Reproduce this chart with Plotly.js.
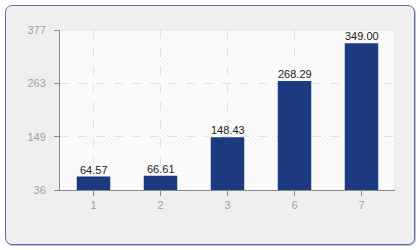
<!DOCTYPE html>
<html>
<head>
<meta charset="utf-8">
<script src="https://cdn.plot.ly/plotly-3.0.1.min.js"></script>
<style>
html,body{margin:0;padding:0;background:#ffffff;}
#frame{position:absolute;left:5px;top:5px;width:408px;height:238px;border:1px solid #5d6fa3;border-radius:7px;background:#efefef;box-shadow:1px 1px 0 #b8c0d8;}
#chart{position:absolute;left:0;top:0;width:420px;height:250px;}
</style>
</head>
<body>
<div id="frame"></div>
<div id="chart"></div>
<script>
const categories = ['1', '2', '3', '6', '7'];
const values = [64.57, 66.61, 148.43, 268.29, 349.00];
const yTickVals = [36, 149.67, 263.33, 377];
const yTickText = ['36', '149', '263', '377'];

const hatch = 'data:image/svg+xml;utf8,' + encodeURIComponent(
  '<svg xmlns="http://www.w3.org/2000/svg" width="335" height="160">' +
  '<defs><pattern id="p" width="4" height="4" patternUnits="userSpaceOnUse">' +
  '<path d="M-1,5 L5,-1" stroke="#f1f1f1" stroke-width="1"/></pattern></defs>' +
  '<rect width="335" height="160" fill="#fdfdfd"/>' +
  '<rect width="335" height="160" fill="url(#p)"/></svg>');

const trace = {
  type: 'bar',
  x: categories,
  y: values,
  width: 0.5,
  marker: {color: '#1b3a80', line: {width: 0}},
  hoverinfo: 'none'
};

// category axis: annotation x is the category index
const labelAnnotations = categories.map((c, i) => ({
  x: i, y: values[i], xref: 'x', yref: 'y',
  text: values[i].toFixed(2),
  showarrow: false, yanchor: 'bottom', xanchor: 'center', yshift: -1,
  font: {family: 'Liberation Sans, Arial, sans-serif', size: 11, color: '#222222'}
}));

const layout = {
  width: 420, height: 250,
  margin: {l: 60, r: 25, t: 30, b: 60, pad: 0},
  paper_bgcolor: 'rgba(0,0,0,0)',
  plot_bgcolor: 'rgba(0,0,0,0)',
  showlegend: false,
  font: {family: 'Liberation Sans, Arial, sans-serif', size: 11, color: '#9f9f9f'},
  images: [{source: hatch, xref: 'paper', yref: 'paper', x: 0, y: 1, sizex: 1, sizey: 1,
            sizing: 'stretch', xanchor: 'left', yanchor: 'top', layer: 'below'}],
  annotations: labelAnnotations,
  xaxis: {
    type: 'category',
    range: [-0.5, 4.5],
    showline: true, linecolor: '#8a8a8a', linewidth: 1,
    ticks: 'outside', ticklen: 5, tickcolor: '#8a8a8a',
    showgrid: true, gridcolor: '#e2e2e2', griddash: 'dash', gridwidth: 1,
    tickfont: {size: 11, color: '#9f9f9f'},
    fixedrange: true
  },
  yaxis: {
    range: [36, 377],
    tickvals: yTickVals, ticktext: yTickText,
    showline: true, linecolor: '#8a8a8a', linewidth: 1,
    ticks: 'outside', ticklen: 5, tickcolor: '#8a8a8a',
    ticklabelstandoff: 6,
    showgrid: true, gridcolor: '#e2e2e2', griddash: 'dash', gridwidth: 1,
    zeroline: false,
    tickfont: {size: 11, color: '#9f9f9f'},
    fixedrange: true
  },
  shapes: [
    {type: 'line', xref: 'paper', yref: 'paper', x0: 0, x1: 1, y0: 1, y1: 1, line: {color: '#e4e4e4', width: 1}},
    {type: 'line', xref: 'paper', yref: 'paper', x0: 1, x1: 1, y0: 0, y1: 1, line: {color: '#e4e4e4', width: 1}}
  ]
};

Plotly.newPlot('chart', [trace], layout, {displayModeBar: false, staticPlot: true});
</script>
</body>
</html>
